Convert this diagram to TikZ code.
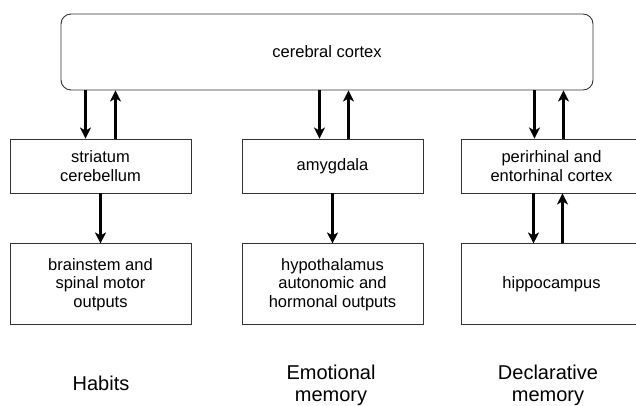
\documentclass[tikz,border=0pt]{standalone}
\usepackage{fontspec}
\setmainfont{Liberation Sans}
\usetikzlibrary{arrows.meta, positioning}

\begin{document}
\begin{tikzpicture}[
    x=1pt, y=1pt,
    box/.style={rectangle, draw=black!80, line width=0.9pt, minimum width=181pt,
                minimum height=54pt, align=center, font=\fontsize{16.5}{18.5}\selectfont},
    tall/.style={minimum height=81pt},
    flow/.style={-{Stealth[length=11pt, width=11pt, inset=3pt]}, line width=2.3pt},
    memlabel/.style={align=center, font=\fontsize{20}{22}\selectfont}
]
\useasboundingbox (0,0) rectangle (636,405);

% Cortex on top
\node[box, rounded corners=10pt, minimum width=532pt, minimum height=76pt] (cortex) at (327,353) {cerebral cortex};

% First row
\node[box] (striatum) at (100.5,239) {striatum\\cerebellum};
\node[box] (amygdala) at (332.5,239) {amygdala};
\node[box] (perirhinal) at (551.5,239) {perirhinal and\\entorhinal cortex};

% Second row
\node[box, tall, below=50pt of striatum] (brainstem) {brainstem and\\spinal motor\\outputs};
\node[box, tall, below=50pt of amygdala] (hypothalamus) {hypothalamus\\autonomic and\\hormonal outputs};
\node[box, tall, below=50pt of perirhinal] (hippocampus) {hippocampus};

% Memory systems
\node[memlabel] (habits) at (101,22) {Habits};
\node[memlabel] (emotional) at (331,20) {Emotional\\memory};
\node[memlabel] (declarative) at (548,20) {Declarative\\memory};

% Arrows to and from the cortex
\draw[flow] ([xshift=-15pt]striatum.north |- cortex.south) -- ([xshift=-15pt]striatum.north);
\draw[flow] ([xshift=15pt]striatum.north) -- ([xshift=15pt]striatum.north |- cortex.south);
\draw[flow] ([xshift=-13pt]amygdala.north |- cortex.south) -- ([xshift=-13pt]amygdala.north);
\draw[flow] ([xshift=16pt]amygdala.north) -- ([xshift=16pt]amygdala.north |- cortex.south);
\draw[flow] ([xshift=-17pt]perirhinal.north |- cortex.south) -- ([xshift=-17pt]perirhinal.north);
\draw[flow] ([xshift=12pt]perirhinal.north) -- ([xshift=12pt]perirhinal.north |- cortex.south);

% Arrows between the rows
\draw[flow] (striatum) -- (brainstem);
\draw[flow] (amygdala) -- (hypothalamus);
\draw[flow] ([xshift=-18pt]perirhinal.south) -- ([xshift=-18pt]hippocampus.north);
\draw[flow] ([xshift=11pt]hippocampus.north) -- ([xshift=11pt]perirhinal.south);

\end{tikzpicture}
\end{document}
